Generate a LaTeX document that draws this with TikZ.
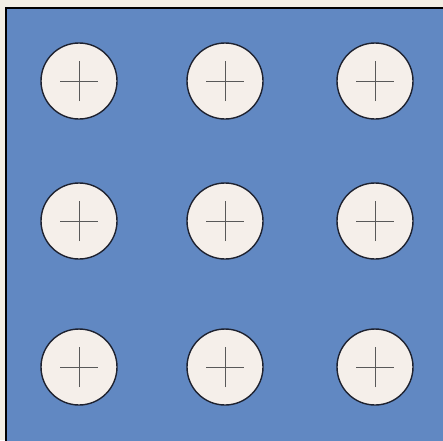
\documentclass[tikz,border=0pt]{standalone}
\usepackage{amsmath}
\usepackage{amssymb}

\definecolor{paper}{HTML}{F2EEE4}
\definecolor{plate}{HTML}{6188C2}
\definecolor{holefill}{HTML}{F5EFEA}
\definecolor{rim}{HTML}{1E2230}

\tikzset{
  hole/.style={circle, draw=rim, line width=1.4pt, fill=holefill, minimum size=76pt, inner sep=0pt},
  crossline/.style={draw=black!65, line width=0.6pt}
}

\begin{document}
\begin{tikzpicture}[x=1pt,y=-1pt]
            \useasboundingbox[fill=paper] (0,0) rectangle (443,440);
            \draw[fill=plate, line width=1.4pt] (6,8) rectangle (447,444);
            \node[hole] (h11) at (79,81) {};
            \node[hole] (h12) at (225,81) {};
            \node[hole] (h13) at (375,81) {};
            \node[hole] (h21) at (79,221) {};
            \node[hole] (h22) at (225,221) {};
            \node[hole] (h23) at (375,221) {};
            \node[hole] (h31) at (79,367) {};
            \node[hole] (h32) at (225,367) {};
            \node[hole] (h33) at (375,367) {};
            \foreach \h in {h11,h12,h13,h21,h22,h23,h31,h32,h33} {
              \draw[crossline] ([xshift=-19pt]\h.center) -- ([xshift=19pt]\h.center);
              \draw[crossline] ([yshift=-20pt]\h.center) -- ([yshift=20pt]\h.center);
            }
        \end{tikzpicture}
\end{document}
